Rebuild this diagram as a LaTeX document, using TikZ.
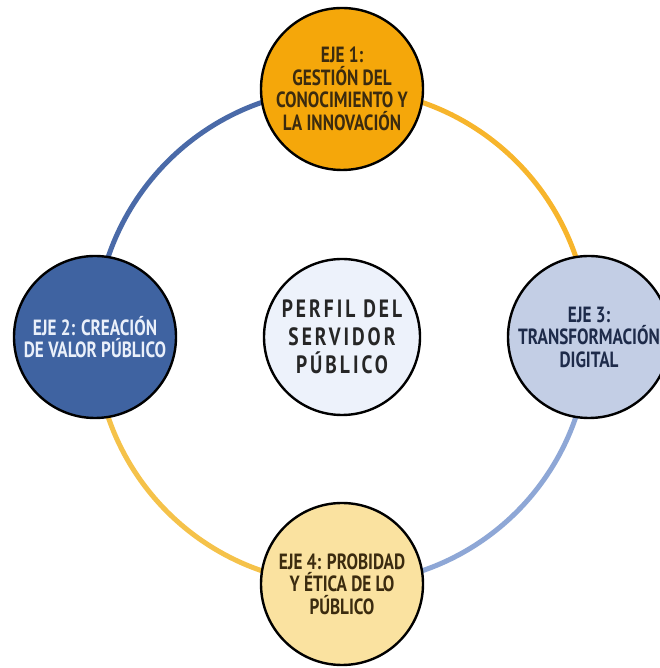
\documentclass[tikz,border=0pt]{standalone}
\usepackage{fontspec}
\setmainfont{PT Sans}[FakeStretch=0.78]
\usepackage{tikz}
\usetikzlibrary{backgrounds}

\definecolor{naranja}{HTML}{F5A70A}
\definecolor{azulOscuro}{HTML}{3F63A1}
\definecolor{azulClaro}{HTML}{C3CEE5}
\definecolor{crema}{HTML}{FAE2A0}
\definecolor{celeste}{HTML}{EDF2FB}
\definecolor{cafe}{HTML}{3B2B0F}
\definecolor{marino}{HTML}{1E2B4A}
\definecolor{blanco}{HTML}{EAF0FA}
\definecolor{arcoAzul}{HTML}{4A6AA8}
\definecolor{arcoNaranja}{HTML}{F7B52C}
\definecolor{arcoCeleste}{HTML}{8EA7D6}
\definecolor{arcoAmarillo}{HTML}{F5C24A}

\tikzset{
  eje/.style={circle, draw=black, line width=2.4pt, minimum size=162pt, inner sep=0pt},
  rotulo/.style={align=center, inner sep=0pt, font=\bfseries\fontsize{22}{22.5}\selectfont},
  anillo/.style={line width=5pt},
}

\begin{document}
\begin{tikzpicture}[x=1pt, y=1pt]
            \useasboundingbox (0,0) rectangle (659,668);
            % Ejes
            \node[eje, fill=naranja, label={[rotulo, text=cafe]center:{EJE 1:\\GESTIÓN DEL\\CONOCIMIENTO Y\\LA INNOVACIÓN}}] (eje1) at (342,579) {};
            \node[eje, fill=azulOscuro, label={[rotulo, text=blanco]center:{EJE 2: CREACIÓN\\DE VALOR PÚBLICO}}] (eje2) at (95,331) {};
            \node[eje, fill=azulClaro, label={[rotulo, text=marino]center:{EJE 3:\\TRANSFORMACIÓN\\DIGITAL}}] (eje3) at (589,331) {};
            \node[eje, fill=crema, label={[rotulo, text=cafe]center:{EJE 4: PROBIDAD\\Y ÉTICA DE LO\\PÚBLICO}}] (eje4) at (342,84) {};
            % Centro
            \node[eje, fill=celeste, minimum size=156pt, label={[rotulo, text=black!85, font=\bfseries\fontsize{25}{28}\selectfont\addfontfeature{LetterSpace=12}]center:{PERFIL DEL\\SERVIDOR\\PÚBLICO}}] (perfil) at (342,331) {};
            % Anillo
            \begin{scope}[on background layer]
              \draw[anillo, arcoAzul] (eje2.center) to[out=90, in=180] (eje1.center);
              \draw[anillo, arcoNaranja] (eje1.center) to[out=0, in=90] (eje3.center);
              \draw[anillo, arcoCeleste] (eje3.center) to[out=-90, in=0] (eje4.center);
              \draw[anillo, arcoAmarillo] (eje4.center) to[out=180, in=-90] (eje2.center);
            \end{scope}
\end{tikzpicture}
\end{document}
